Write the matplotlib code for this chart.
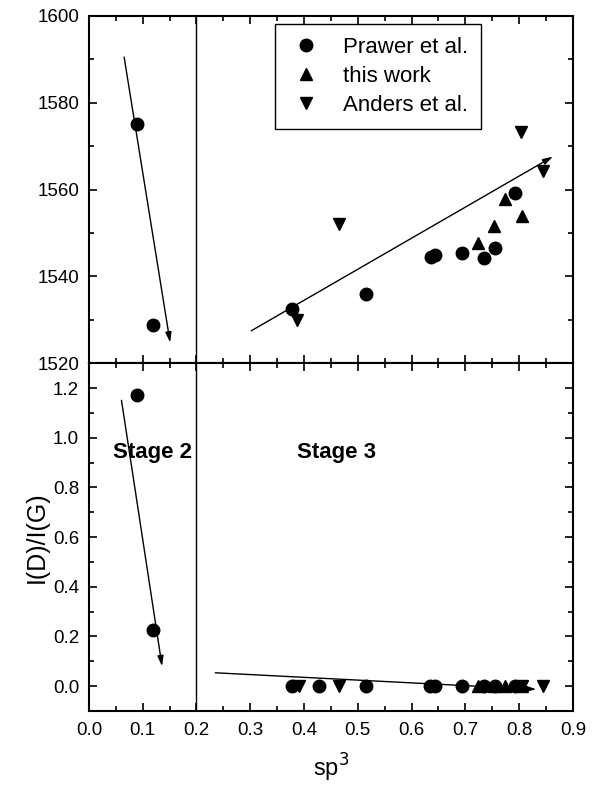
import matplotlib.pyplot as plt
from matplotlib.ticker import MultipleLocator

plt.rcParams['font.family'] = ['Liberation Sans', 'DejaVu Sans']

# top panel: G peak position (cm^-1)
prawer_x_top = [0.089, 0.119, 0.377, 0.515, 0.636, 0.644, 0.693, 0.735, 0.755, 0.793]
prawer_y_top = [1575.1, 1528.8, 1532.4, 1535.9, 1544.5, 1545.0, 1545.4, 1544.2, 1546.6, 1559.3]
work_x_top = [0.724, 0.754, 0.774, 0.806]
work_y_top = [1547.6, 1551.6, 1557.9, 1553.9]
anders_x_top = [0.387, 0.466, 0.804, 0.844]
anders_y_top = [1530.0, 1552.0, 1573.2, 1564.3]

# bottom panel: I(D)/I(G)
prawer_x_bot = [0.089, 0.120, 0.378, 0.428, 0.515, 0.635, 0.644, 0.693, 0.735, 0.755, 0.793]
prawer_y_bot = [1.171, 0.225, 0.0, 0.0, 0.0, 0.0, 0.0, 0.0, 0.0, 0.0, 0.0]
work_x_bot = [0.724, 0.754, 0.774, 0.806]
work_y_bot = [0.0, 0.0, 0.0, 0.0]
anders_x_bot = [0.390, 0.465, 0.806, 0.844]
anders_y_bot = [0.0, 0.0, 0.0, 0.0]

# trend arrows (start, end)
arrows_top = [((0.0654, 1590.5), (0.151, 1524.8)), ((0.302, 1527.5), (0.863, 1567.6))]
arrows_bot = [((0.0605, 1.151), (0.136, 0.08)), ((0.235, 0.0535), (0.832, -0.013))]

fig, (ax1, ax2) = plt.subplots(2, 1, figsize=(5.93, 7.89), dpi=100, sharex=True)
fig.subplots_adjust(left=0.150, right=0.966, top=0.980, bottom=0.099, hspace=0)

ms = 9
for ax, px, py, wx, wy, ax_, ay_, arrows in [
        (ax1, prawer_x_top, prawer_y_top, work_x_top, work_y_top, anders_x_top, anders_y_top, arrows_top),
        (ax2, prawer_x_bot, prawer_y_bot, work_x_bot, work_y_bot, anders_x_bot, anders_y_bot, arrows_bot)]:
    ax.plot(px, py, 'o', color='black', ms=ms, label='Prawer et al.')
    ax.plot(wx, wy, '^', color='black', ms=ms - 0.5, label='this work')
    ax.plot(ax_, ay_, 'v', color='black', ms=ms - 0.5, label='Anders et al.')
    for start, end in arrows:
        ax.annotate('', xy=end, xytext=start,
                    arrowprops=dict(arrowstyle='-|>,head_length=0.6,head_width=0.18',
                                    color='black', lw=1, shrinkA=0, shrinkB=0))
    ax.axvline(0.2, color='black', lw=1)
    ax.tick_params(which='both', direction='in', top=True, right=True, labelsize=13.5, width=1.2)
    ax.tick_params(axis='y', which='both', pad=7)
    ax.tick_params(axis='x', which='both', pad=8)
    ax.tick_params(which='major', length=6)
    ax.tick_params(which='minor', length=3.5)
    for s in ax.spines.values():
        s.set_linewidth(1.5)

ax1.set_ylim(1520, 1600)
ax1.yaxis.set_major_locator(MultipleLocator(20))
ax1.yaxis.set_minor_locator(MultipleLocator(10))
leg = ax1.legend(loc='upper left', bbox_to_anchor=(0.384, 0.977), borderaxespad=0, fontsize=16,
                 frameon=True, fancybox=False, edgecolor='black', framealpha=1, borderpad=0.6,
                 handletextpad=0.85, labelspacing=0.35, handlelength=1.6)
leg.get_frame().set_linewidth(1)

ax2.set_xlim(0.0, 0.9)
ax2.set_ylim(-0.1, 1.3)
ax2.xaxis.set_major_locator(MultipleLocator(0.1))
ax2.xaxis.set_minor_locator(MultipleLocator(0.05))
ax2.yaxis.set_minor_locator(MultipleLocator(0.1))
ax2.set_yticks([0.0, 0.2, 0.4, 0.6, 0.8, 1.0, 1.2])
ax2.yaxis.set_major_formatter(plt.FormatStrFormatter('%.1f'))
ax2.xaxis.set_major_formatter(plt.FormatStrFormatter('%.1f'))

ax2.text(0.045, 0.94, 'Stage 2', fontsize=16, fontweight='bold', va='center')
ax2.text(0.387, 0.94, 'Stage 3', fontsize=16, fontweight='bold', va='center')
ax2.set_ylabel('I(D)/I(G)', fontsize=18, labelpad=3)
ax2.set_xlabel('sp$^3$', fontsize=17, labelpad=9)

fig.savefig('out.png', dpi=100)
